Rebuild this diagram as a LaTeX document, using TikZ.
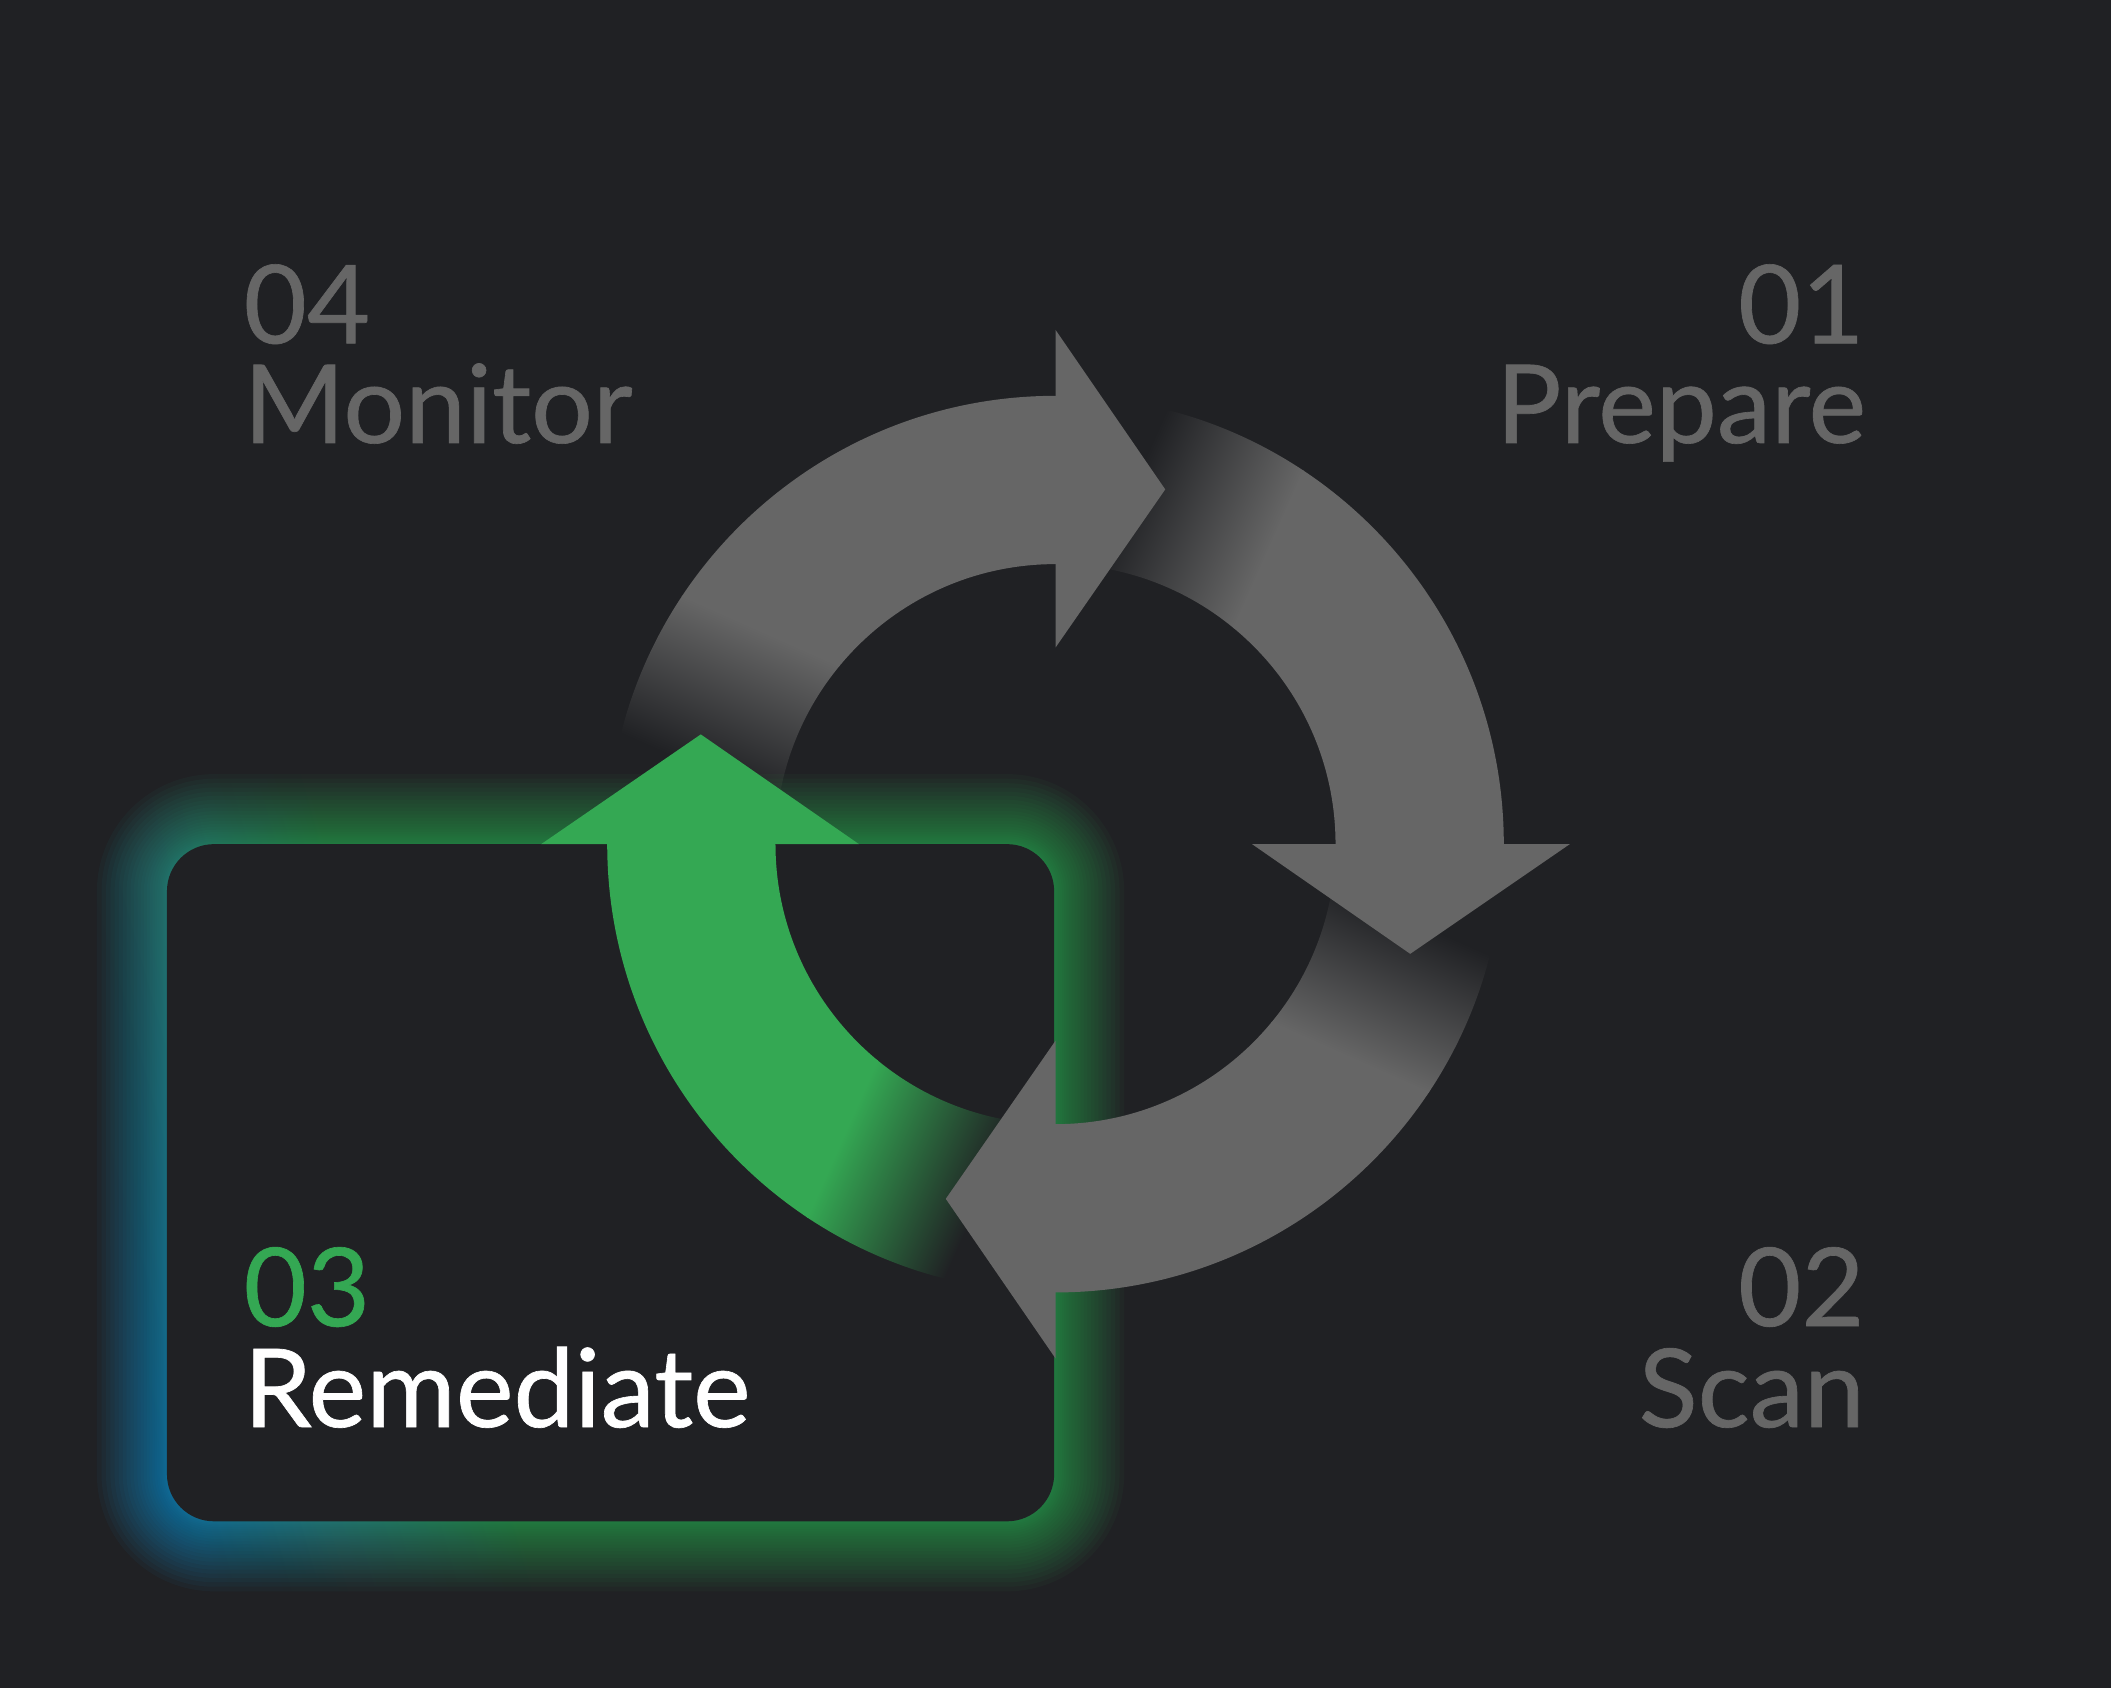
\documentclass[tikz,border=0pt]{standalone}
\usepackage{fontspec}
\newfontfamily\lblfont{Lato}[FakeBold=0.6]
\usetikzlibrary{calc}
\definecolor{bg}{HTML}{202124}
\definecolor{ringgray}{HTML}{666666}
\definecolor{txtgray}{HTML}{666666}
\definecolor{ggreen}{HTML}{34A853}
\definecolor{glowblue}{HTML}{0E8FD0}
\definecolor{glowgreen}{HTML}{34A853}
\pgfdeclarehorizontalshading{glowsh}{100bp}{color(0bp)=(glowblue); color(36.54bp)=(glowblue); color(46.15bp)=(glowgreen); color(100bp)=(glowgreen)}
\tikzset{
  lbl/.style={inner sep=0pt, outer sep=0pt, font=\lblfont\fontsize{81}{81}\selectfont},
}
\newcommand\fadedarc[3]{%
  \begin{scope}
    \pgfmathsetmacro\startang{#1-0.8}
    \pgfmathsetmacro\endang{#2-0.6}
    \clip ($(784,627)+(\startang:333)$) arc[start angle=\startang, end angle=\endang, radius=333]
      -- ($(784,627)+(\endang:208)$) arc[start angle=\endang, end angle=\startang, radius=208] -- cycle;
    \pgfmathsetmacro\thm{#1-24}
    \begin{scope}[transform canvas={shift={(784pt,627pt)}, rotate=\thm}]
      \fill[bg] (0pt,55pt) rectangle (420pt,420pt);
      \shade[top color=bg, bottom color=#3] (0pt,-56pt) rectangle (420pt,56pt);
      \fill[#3] (0pt,-420pt) rectangle (420pt,-55pt);
    \end{scope}
  \end{scope}}
\begin{document}
\begin{tikzpicture}[x=1pt,y=1pt]
\fill[bg] (0,0) rectangle (1568,1254);
\useasboundingbox (0,0) rectangle (1568,1254);
\coordinate (C) at (784,627);

% top-left arc (behind the glow)
\fadedarc{180}{90}{ringgray}

% glow around the box
\foreach \k in {1,...,24}{
  \pgfmathsetmacro\e{52*(\k/24)^1.6}
  \pgfmathsetmacro\rr{35+\e}
  \begin{scope}
    \clip[rounded corners=\rr pt] (124-\e,124-\e) rectangle (783+\e,627+\e);
    \begin{scope}[transform canvas={shift={(124pt,124pt)}, rotate=15.8}]
      \shade[shading=glowsh, fill opacity=0.052] (-300pt,-900pt) rectangle (1000pt,900pt);
    \end{scope}
  \end{scope}
}

% box
\coordinate (boxsw) at (124,124);
\coordinate (boxne) at (783,627);
\fill[bg, rounded corners=35pt] (boxsw) rectangle (boxne);

% other arcs
\fadedarc{-90}{-180}{ggreen}
\fadedarc{90}{0}{ringgray}
\fadedarc{0}{-90}{ringgray}

% arrowheads
\foreach \a/\c in {90/ringgray, 0/ringgray, -90/ringgray, 180/ggreen}{
  \pgfmathsetmacro\tipang{\a-17.19}
  \fill[\c] ($(C)+(\a:146)$) -- ($(C)+(\a:382)$) -- ($(C)+(\tipang:275.8)$) -- cycle;
}

% labels
\node[lbl, anchor=base west, text=txtgray] (n04) at (181,999) {04};
\node[lbl, anchor=base west, text=txtgray] (monitor) at (181,925) {Monitor};
\node[lbl, anchor=base east, text=txtgray] (n01) at (1385,999) {01};
\node[lbl, anchor=base east, text=txtgray] (prepare) at (1386,925) {Prepare};
\node[lbl, anchor=base east, text=txtgray] (n02) at (1385,269) {02};
\node[lbl, anchor=base east, text=txtgray] (scan) at (1385,194) {Scan};
\node[lbl, anchor=base west, text=ggreen] (n03) at (181,269) {03};
\node[lbl, anchor=base west, text=white] (remediate) at (181,194) {Remediate};
\end{tikzpicture}
\end{document}
